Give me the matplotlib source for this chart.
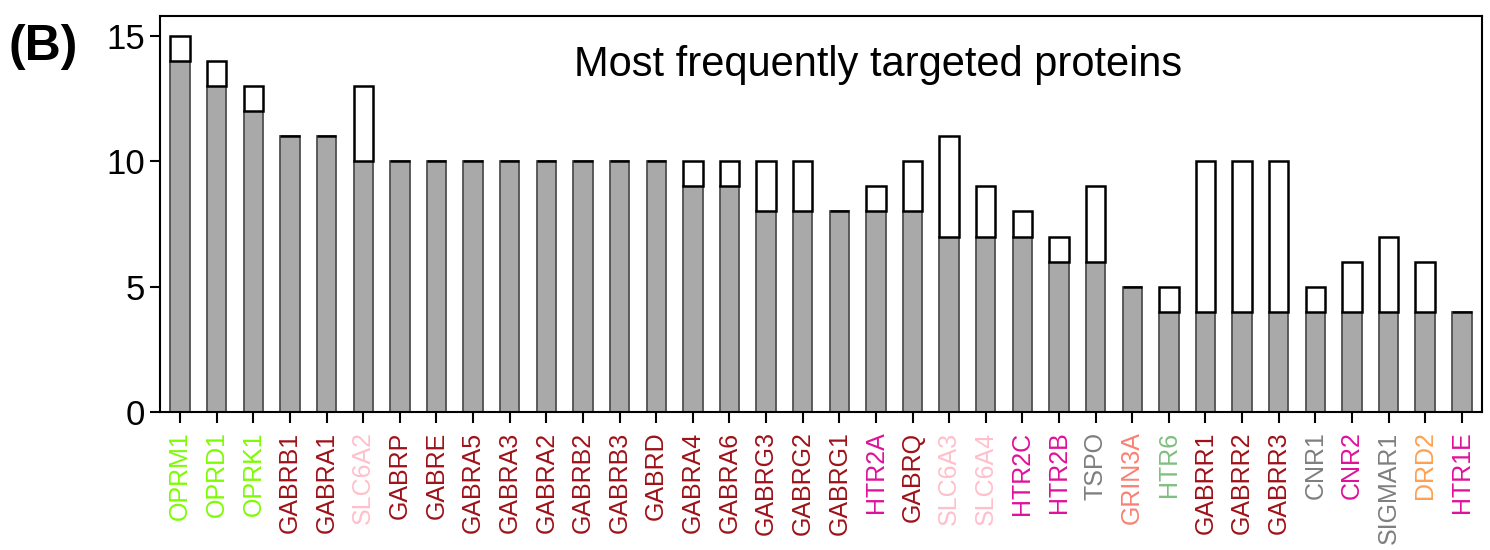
import matplotlib
matplotlib.use("Agg")
import matplotlib.pyplot as plt
import numpy as np

plt.rcParams["font.family"] = ["Liberation Sans", "DejaVu Sans"]

proteins = [
    "OPRM1", "OPRD1", "OPRK1", "GABRB1", "GABRA1", "SLC6A2", "GABRP", "GABRE",
    "GABRA5", "GABRA3", "GABRA2", "GABRB2", "GABRB3", "GABRD", "GABRA4", "GABRA6",
    "GABRG3", "GABRG2", "GABRG1", "HTR2A", "GABRQ", "SLC6A3", "SLC6A4", "HTR2C",
    "HTR2B", "TSPO", "GRIN3A", "HTR6", "GABRR1", "GABRR2", "GABRR3", "CNR1",
    "CNR2", "SIGMAR1", "DRD2", "HTR1E",
]
filled = [14, 13, 12, 11, 11, 10, 10, 10, 10, 10, 10, 10, 10, 10, 9, 9,
          8, 8, 8, 8, 8, 7, 7, 7, 6, 6, 5, 4, 4, 4, 4, 4, 4, 4, 4, 4]
total = [15, 14, 13, 11, 11, 13, 10, 10, 10, 10, 10, 10, 10, 10, 10, 10,
         10, 10, 8, 9, 10, 11, 9, 8, 7, 9, 5, 5, 10, 10, 10, 5, 6, 7, 6, 4]
groups = [
    "opioid", "opioid", "opioid", "gaba", "gaba", "slc", "gaba", "gaba",
    "gaba", "gaba", "gaba", "gaba", "gaba", "gaba", "gaba", "gaba",
    "gaba", "gaba", "gaba", "htr", "gaba", "slc", "slc", "htr",
    "htr", "other", "grin", "htr6", "gaba", "gaba", "gaba", "other",
    "htr", "other", "drd", "htr",
]
group_colors = {
    "opioid": "#7CFC00",
    "gaba": "#9E1218",
    "slc": "#FFC0CB",
    "htr": "#E0109A",
    "other": "#7F7F7F",
    "grin": "#FA8072",
    "htr6": "#7FBF7F",
    "drd": "#FFA050",
}

x = np.arange(len(proteins))
extra = np.array(total) - np.array(filled)

fig = plt.figure(figsize=(14.9, 5.5), dpi=100)
ax = fig.add_axes([0.1074, 0.2509, 0.8872, 0.72])

ax.bar(x, filled, width=0.53, color="#A9A9A9", edgecolor="#505050", linewidth=1.3)
ax.bar(x, extra, width=0.53, bottom=filled, color="white", edgecolor="black",
       linewidth=1.8)

ax.set_xlim(-0.55, len(proteins) - 0.45)
ax.set_ylim(0, 15.8)
ax.set_yticks([0, 5, 10, 15])
ax.set_xticks(x)
ax.set_xticklabels(proteins, rotation=90, fontsize=18)
for label, grp in zip(ax.get_xticklabels(), groups):
    label.set_color(group_colors[grp])
ax.tick_params(axis="y", labelsize=25, length=7, width=1.5)
ax.tick_params(axis="x", length=8, width=1.5, pad=6)
for spine in ax.spines.values():
    spine.set_linewidth(1.5)

ax.text(0.543, 0.876, "Most frequently targeted proteins", transform=ax.transAxes,
        ha="center", va="center", fontsize=30)
fig.text(0.006, 0.915, "(B)", fontsize=36, fontweight="bold", ha="left", va="center")

fig.savefig("out.png", dpi=100)
